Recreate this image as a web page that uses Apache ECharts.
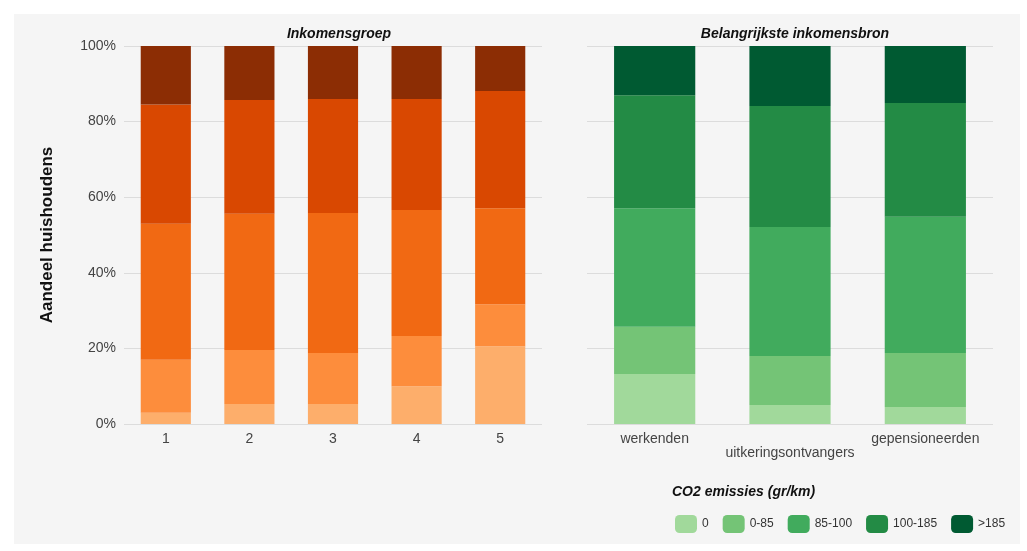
<!DOCTYPE html>
<html><head><meta charset="utf-8">
<script src="https://cdn.jsdelivr.net/npm/echarts@6/dist/echarts.min.js"></script>
<style>html,body{margin:0;background:#fff}#c{width:1027px;height:551px}</style>
</head><body><div id="c"></div>
<script>
var klassen = ['0', '0-85', '85-100', '100-185', '>185'];
var groepen = ['1', '2', '3', '4', '5'];
var bronnen = ['werkenden', 'uitkeringsontvangers', 'gepensioneerden'];
// shares per emission class (percent), one array per class
var groep0 = [3, 5.3, 5.3, 10, 20.6];
var groep1 = [14, 14.3, 13.5, 13.3, 11.1];
var groep2 = [36, 36, 37, 33.3, 25.4];
var groep3 = [31.5, 30.1, 30.2, 29.4, 31];
var groep4 = [15.5, 14.3, 14, 14, 11.9];
var bron0 = [13.2, 5, 4.5];
var bron1 = [12.5, 13, 14.3];
var bron2 = [31.4, 34.1, 36];
var bron3 = [29.9, 32, 30.1];
var bron4 = [13, 15.9, 15.1];
var oranje = ['#fdae6b', '#fd8d3c', '#f16913', '#d94801', '#8c2d04'];
var groen = ['#a1d99b', '#74c476', '#41ab5d', '#238b45', '#005a32'];

var groepData = [groep0, groep1, groep2, groep3, groep4];
var bronData = [bron0, bron1, bron2, bron3, bron4];
var series = [];
klassen.forEach(function (k, i) {
  series.push({ name: 'g' + k, type: 'bar', stack: 'g', xAxisIndex: 0, yAxisIndex: 0,
    barWidth: '60%', itemStyle: { color: oranje[i] }, data: groepData[i] });
});
klassen.forEach(function (k, i) {
  series.push({ name: k, type: 'bar', stack: 'b', xAxisIndex: 1, yAxisIndex: 1,
    barWidth: '60%', itemStyle: { color: groen[i] }, data: bronData[i] });
});
var yAx = {
  type: 'value', min: 0, max: 100, interval: 20,
  axisLabel: { formatter: '{value}%', color: '#444', fontSize: 14, fontFamily: 'Arial' },
  splitLine: { lineStyle: { color: '#dcdcdc' } }, axisLine: { show: false }, axisTick: { show: false }
};
var chart = echarts.init(document.getElementById('c'));
chart.setOption({
  backgroundColor: '#fff',
  graphic: [{ type: 'rect', shape: { x: 14, y: 14, width: 1006, height: 530 }, style: { fill: '#f5f5f5' }, z: -10 },
    { type: 'text', left: 672, top: 485, style: { text: 'CO2 emissies (gr/km)', font: 'italic bold 14px Arial', fill: '#111' } }],
  title: [
    { text: 'Inkomensgroep', left: 334, top: 22, textAlign: 'center',
      textStyle: { fontSize: 14, fontStyle: 'italic', fontWeight: 'bold', color: '#111', fontFamily: 'Arial' } },
    { text: 'Belangrijkste inkomensbron', left: 790, top: 22, textAlign: 'center',
      textStyle: { fontSize: 14, fontStyle: 'italic', fontWeight: 'bold', color: '#111', fontFamily: 'Arial' } }
  ],
  legend: {
    data: klassen, left: 670, top: 510, itemWidth: 22, itemHeight: 18, itemGap: 14,
    textStyle: { fontSize: 12, color: '#333', fontFamily: 'Arial' }
  },
  grid: [
    { left: 124, width: 418, top: 46, height: 378 },
    { left: 587, width: 406, top: 46, height: 378 }
  ],
  xAxis: [
    { type: 'category', gridIndex: 0, data: groepen, axisTick: { show: false },
      axisLine: { show: false }, axisLabel: { color: '#444', fontSize: 14, fontFamily: 'Arial', margin: 8 } },
    { type: 'category', gridIndex: 1, data: bronnen, axisTick: { show: false },
      axisLine: { show: false },
      axisLabel: { color: '#444', fontSize: 14, fontFamily: 'Arial', margin: 8, interval: 0,
        formatter: function (v, i) { return i === 1 ? '\n' + v : v; } } }
  ],
  yAxis: [
    Object.assign({ gridIndex: 0, name: 'Aandeel huishoudens', nameLocation: 'middle', nameGap: 68,
      nameTextStyle: { fontSize: 17, fontWeight: 'bold', color: '#111', fontFamily: 'Arial' } }, yAx),
    Object.assign({ gridIndex: 1 }, yAx, { axisLabel: { show: false } })
  ],
  series: series
});
</script></body></html>
